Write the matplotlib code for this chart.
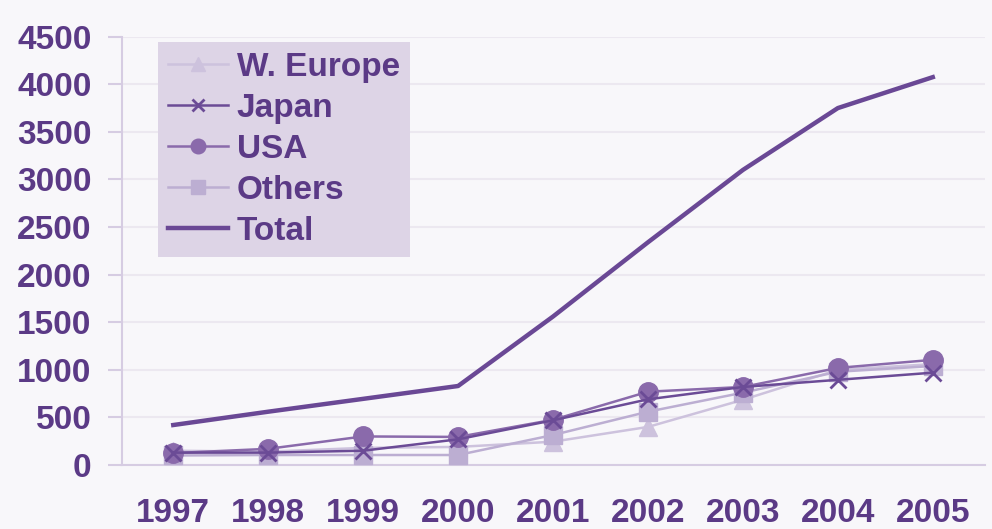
import numpy as np
from matplotlib import pyplot as plt

plt.rcParams['font.family'] = ['Liberation Sans', 'DejaVu Sans']

years = ['1997', '1998', '1999', '2000', '2001', '2002', '2003', '2004', '2005']
weurope = [150, 140, 180, 190, 245, 400, 685, 1000, 1060]
japan = [130, 130, 150, 270, 470, 690, 820, 895, 970]
usa = [125, 170, 300, 295, 475, 770, 820, 1020, 1105]
others = [100, 105, 105, 105, 315, 560, 760, 980, 1040]
total = [420, 560, 695, 830, 1560, 2340, 3100, 3750, 4075]

txt = '#5b3a86'
bg = '#f8f7fa'

fig = plt.figure(figsize=(9.92, 5.29), dpi=100, facecolor=bg)
ax = fig.add_axes([122 / 992, 64 / 529, (985 - 122) / 992, (465 - 36.7) / 529])
ax.set_facecolor(bg)

x = np.arange(len(years))
ax.plot(x, weurope, color='#cdc2dd', lw=1.8, marker='^', ms=13,
        mec='#cdc2dd', label='W. Europe', zorder=3)
ax.plot(x, japan, color='#6b4b96', lw=1.8, marker='x', ms=11, mew=2,
        label='Japan', zorder=5)
ax.plot(x, usa, color='#8a6aab', lw=1.8, marker='o', ms=14,
        label='USA', zorder=4)
ax.plot(x, others, color='#bcaed2', lw=1.8, marker='s', ms=13,
        label='Others', zorder=3)
ax.plot(x, total, color='#6a4895', lw=3.2, label='Total', zorder=6)

ax.set_xlim(-0.54, 8.55)
ax.set_ylim(0, 4500)
ax.set_yticks(np.arange(0, 4501, 500))
ax.set_xticks(x)
ax.set_xticklabels(years)
ax.grid(axis='y', color='#ece8f0', lw=1.5, zorder=0)

for s in ['top', 'right']:
    ax.spines[s].set_visible(False)
ax.spines['left'].set_color('#d6cce2')
ax.spines['bottom'].set_color('#d6cce2')
ax.spines['left'].set_linewidth(1.5)
ax.spines['bottom'].set_linewidth(1.5)
ax.tick_params(axis='y', length=10, color='#d6cce2', width=1.5,
               labelsize=24, labelcolor=txt, pad=12)
ax.tick_params(axis='x', length=0, labelsize=24, labelcolor=txt, pad=24)
for lab in ax.get_xticklabels() + ax.get_yticklabels():
    lab.set_fontweight('bold')

leg = ax.legend(loc='upper left', bbox_to_anchor=(0.042, 0.988),
                borderaxespad=0, frameon=True, fancybox=False,
                facecolor='#ddd4e6', edgecolor='none', framealpha=1,
                prop={'weight': 'bold', 'size': 24}, labelcolor=txt,
                handlelength=1.8, handletextpad=0.25, labelspacing=0.3,
                borderpad=0.3, markerscale=0.75)

fig.savefig('out.png', dpi=100, facecolor=bg)
